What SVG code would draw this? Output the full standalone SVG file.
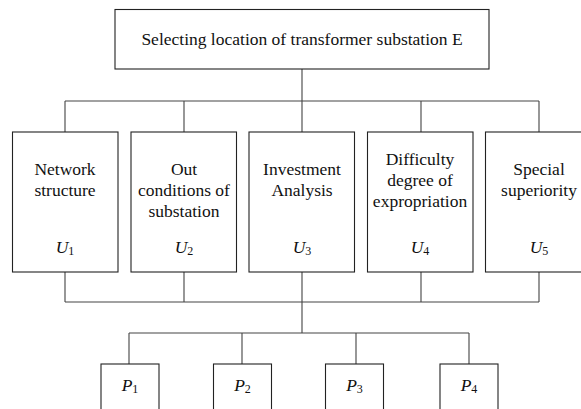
<svg xmlns="http://www.w3.org/2000/svg" width="581" height="409" viewBox="0 0 581 409">
<style>
.box{fill:#fff;stroke:#222;stroke-width:1.1}
.ln{fill:none;stroke:#444;stroke-width:1.1}
.t{font-family:'Liberation Serif','DejaVu Serif',serif;font-size:17.5px;fill:#111;text-anchor:middle}
.it{font-style:italic}
.sub{font-size:12px}
</style>
<rect width="581" height="409" fill="#fff"/>
<g id="connectors">
<path class="ln" d="M302 69V101M65 101H539M65 101V132M184 101V132M302 101V132M421 101V132M539 101V132"/>
<path class="ln" d="M65 272V302M184 272V302M302 272V302M421 272V302M539 272V302M65 302H539M302 302V333M129 333H469M129 333V364M242 333V364M356 333V364M469 333V364"/>
</g>
<g class="t" font-family="Liberation Serif, serif">
<g id="root">
<rect class="box" x="115" y="9.5" width="374" height="59.5"/>
<text x="302" y="45">Selecting location of transformer substation E</text>
</g>
<g id="U1">
<rect class="box" x="12.5" y="132" width="105.5" height="140"/>
<text x="65" y="175">Network</text>
<text x="65" y="196">structure</text>
<text x="65" y="253"><tspan class="it">U</tspan><tspan class="sub" dy="1.5">1</tspan></text>
</g>
<g id="U2">
<rect class="box" x="131" y="132" width="105.5" height="140"/>
<text x="184" y="175">Out</text>
<text x="184" y="196">conditions of</text>
<text x="184" y="217">substation</text>
<text x="184" y="253"><tspan class="it">U</tspan><tspan class="sub" dy="1.5">2</tspan></text>
</g>
<g id="U3">
<rect class="box" x="249" y="132" width="105.5" height="140"/>
<text x="302" y="175">Investment</text>
<text x="302" y="196">Analysis</text>
<text x="302" y="253"><tspan class="it">U</tspan><tspan class="sub" dy="1.5">3</tspan></text>
</g>
<g id="U4">
<rect class="box" x="367.5" y="132" width="105.5" height="140"/>
<text x="420" y="165">Difficulty</text>
<text x="420" y="186">degree of</text>
<text x="420" y="207">expropriation</text>
<text x="420" y="253"><tspan class="it">U</tspan><tspan class="sub" dy="1.5">4</tspan></text>
</g>
<g id="U5">
<rect class="box" x="485.5" y="132" width="107" height="140"/>
<text x="539" y="175">Special</text>
<text x="539" y="196">superiority</text>
<text x="539" y="253"><tspan class="it">U</tspan><tspan class="sub" dy="1.5">5</tspan></text>
</g>
<g id="P1">
<rect class="box" x="101" y="364" width="58" height="60"/>
<text x="130" y="391"><tspan class="it">P</tspan><tspan class="sub" dy="2">1</tspan></text>
</g>
<g id="P2">
<rect class="box" x="213.5" y="364" width="58" height="60"/>
<text x="242.5" y="391"><tspan class="it">P</tspan><tspan class="sub" dy="2">2</tspan></text>
</g>
<g id="P3">
<rect class="box" x="325.5" y="364" width="58" height="60"/>
<text x="354.5" y="391"><tspan class="it">P</tspan><tspan class="sub" dy="2">3</tspan></text>
</g>
<g id="P4">
<rect class="box" x="440" y="364" width="58" height="60"/>
<text x="469" y="391"><tspan class="it">P</tspan><tspan class="sub" dy="2">4</tspan></text>
</g>
</g>
</svg>
